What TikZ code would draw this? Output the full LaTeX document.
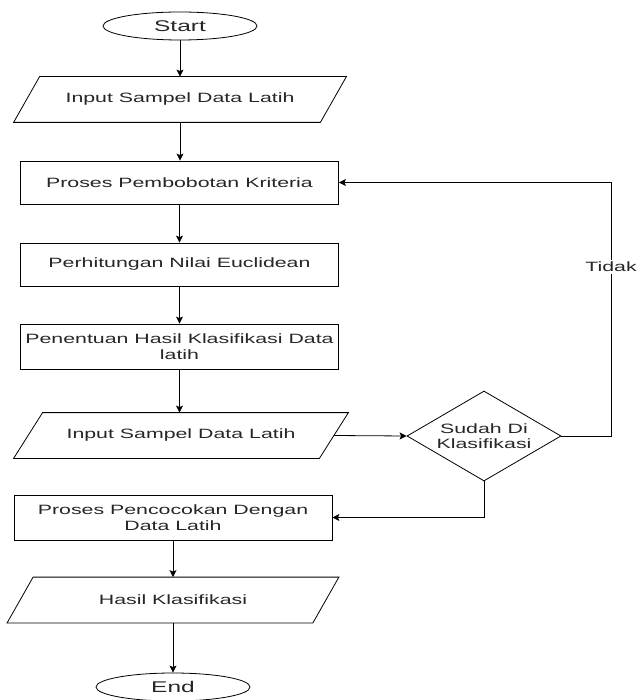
\documentclass[tikz,border=0pt]{standalone}
\usepackage{fontspec}
\setmainfont{Liberation Sans}[FakeStretch=1.58]
\usetikzlibrary{shapes.geometric,arrows.meta,calc}
\begin{document}
\begin{tikzpicture}[x=1pt,y=-1pt,
  every node/.style={font=\fontsize{13.5}{16}\selectfont, text=black!85, inner sep=0pt},
  boxnode/.style={draw, minimum width=318pt, minimum height=43pt, align=center},
  paranode/.style={minimum width=306pt, minimum height=45pt, align=center},
  termnode/.style={draw, ellipse, minimum width=154pt, minimum height=28pt, font=\fontsize{15.5}{18}\selectfont},
  decnode/.style={draw, diamond, shape aspect=1.7, minimum width=154pt, minimum height=90pt, align=center, font=\fontsize{13.5}{15}\selectfont},
  arr/.style={-{Stealth[length=7pt,width=7pt,inset=1.5pt]}},
  line width=0.8pt]
\useasboundingbox (0,0) rectangle (643,700);

\node[termnode] (start) at (180,26) {Start};

\node[paranode] (in1) at (180,99.5) {Input Sampel Data Latih};
\draw ([xshift=-13pt]in1.south west) -- ([xshift=13pt]in1.north west) -- ([xshift=13pt]in1.north east) -- ([xshift=-13pt]in1.south east) -- cycle;

\node[boxnode] (pemb) at (179.5,182.5) {Proses Pembobotan Kriteria};
\node[boxnode] (euc) at (179.5,264.5) {Perhitungan Nilai Euclidean};
\node[boxnode, minimum height=45pt] (tentu) at (179.5,346.5) {Penentuan Hasil Klasifikasi Data\\latih};

\node[paranode, minimum width=305pt] (in2) at (181,435.5) {Input Sampel Data Latih};
\draw ([xshift=-14.5pt]in2.south west) -- ([xshift=14.5pt]in2.north west) -- ([xshift=14.5pt]in2.north east) -- ([xshift=-14.5pt]in2.south east) -- cycle;

\node[decnode] (dia) at (484,436) {Sudah Di\\Klasifikasi};

\node[boxnode, minimum height=45pt] (penc) at (173,517.5) {Proses Pencocokan Dengan\\Data Latih};

\node[paranode, minimum width=305pt] (hasil) at (173,600) {Hasil Klasifikasi};
\draw ([xshift=-13pt]hasil.south west) -- ([xshift=13pt]hasil.north west) -- ([xshift=13pt]hasil.north east) -- ([xshift=-13pt]hasil.south east) -- cycle;

\node[termnode] (end) at (173,687) {End};

\coordinate (loop) at (611,436);

\draw[arr] (start.south) -- (start.south |- in1.north);
\draw[arr] (in1.south) -- (in1.south |- pemb.north);
\draw[arr] (pemb.south) -- (euc.north);
\draw[arr] (euc.south) -- (tentu.north);
\draw[arr] (tentu.south) -- (tentu.south |- in2.north);
\draw[arr] (in2.east) -- (dia.west);
\draw[arr] (dia.east) -- (loop) |- node[pos=0.334, fill=white, inner xsep=1pt, inner ysep=2pt] {Tidak} (pemb.east);
\draw[arr] (dia.south) |- (penc.east);
\draw[arr] (penc.south) -- (hasil.north);
\draw[arr] (hasil.south) -- (end.north);
\end{tikzpicture}
\end{document}
